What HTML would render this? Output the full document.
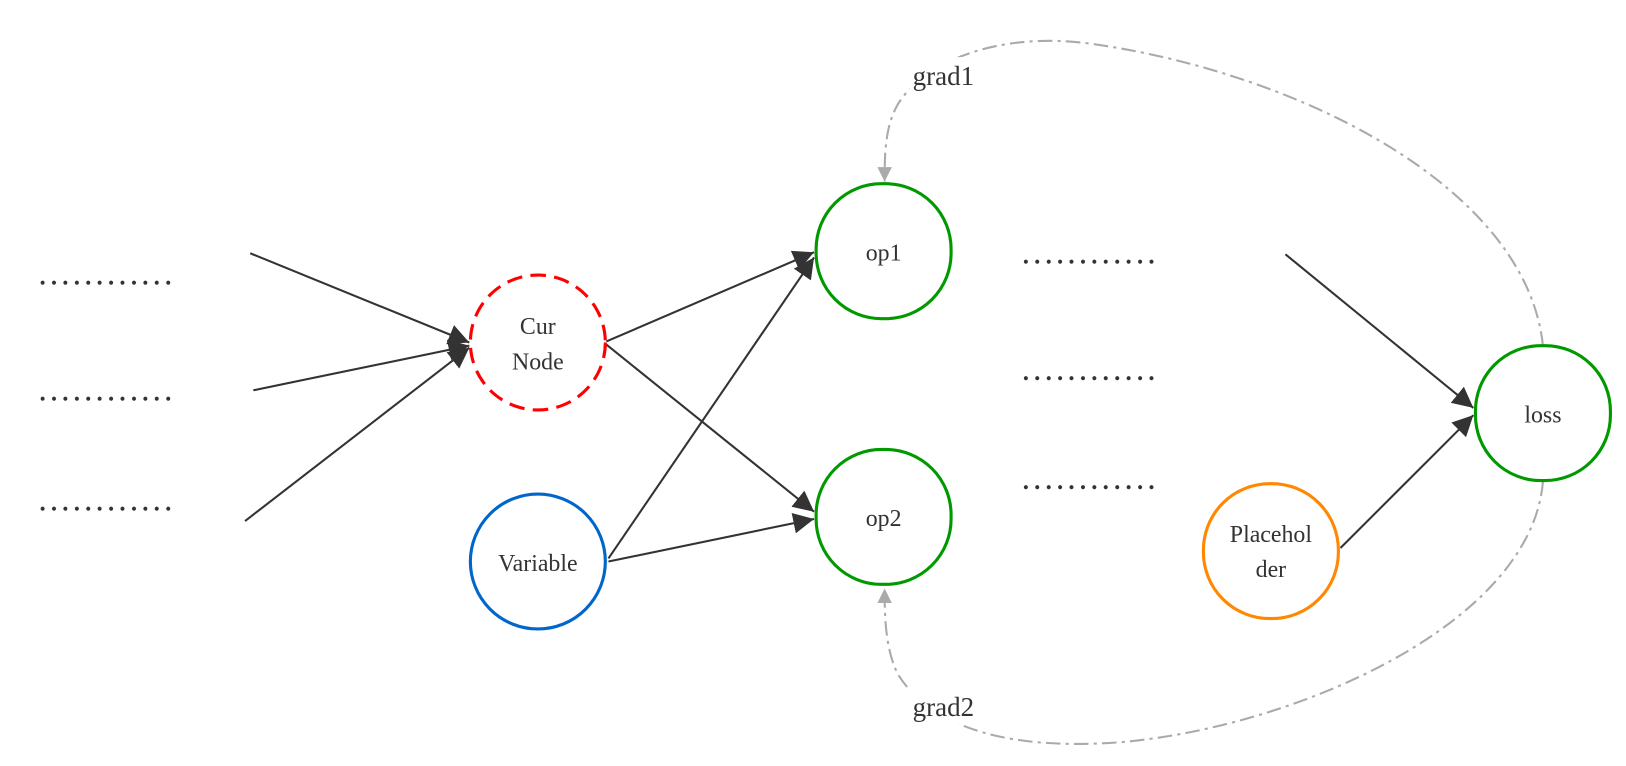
<!DOCTYPE html>
<html><head><meta charset="utf-8"><style>html,body{margin:0;padding:0;background:#fff;}svg{display:block}</style></head>
<body>
<svg width="1626" height="766" viewBox="0 0 1566 738" preserveAspectRatio="none" xmlns="http://www.w3.org/2000/svg" font-family="Liberation Serif, serif">
<defs>
<marker id="ab" viewBox="0 0 10 10" refX="10" refY="5" markerWidth="20" markerHeight="20" markerUnits="userSpaceOnUse" orient="auto"><path d="M0,0L10,5L0,10z" fill="#333"/></marker>
<marker id="g" viewBox="0 0 10 10" refX="10" refY="5" markerWidth="14" markerHeight="14" markerUnits="userSpaceOnUse" orient="auto"><path d="M0,0L10,5L0,10z" fill="#aaa"/></marker>
</defs>
<g fill="#333" font-size="24" font-weight="bold">
<text x="38" y="274" textLength="127">............</text>
<text x="38" y="386" textLength="127">............</text>
<text x="38" y="492" textLength="127">............</text>
<text x="985" y="254" textLength="127">............</text>
<text x="985" y="366" textLength="127">............</text>
<text x="985" y="471" textLength="127">............</text>
</g>
<g stroke="#333" stroke-width="2" fill="none">
<line x1="241" y1="244" x2="452" y2="330" marker-end="url(#ab)"/>
<line x1="244" y1="376" x2="452" y2="333" marker-end="url(#ab)"/>
<line x1="236" y1="502" x2="452" y2="335" marker-end="url(#ab)"/>
<line x1="584" y1="329" x2="784" y2="243" marker-end="url(#ab)"/>
<line x1="584" y1="332" x2="784" y2="493" marker-end="url(#ab)"/>
<line x1="586" y1="538" x2="784" y2="248" marker-end="url(#ab)"/>
<line x1="586" y1="541" x2="784" y2="500" marker-end="url(#ab)"/>
<line x1="1238" y1="245" x2="1419" y2="393" marker-end="url(#ab)"/>
<line x1="1291" y1="528" x2="1419" y2="400" marker-end="url(#ab)"/>
</g>
<g stroke="#aaa" stroke-width="2" fill="none" stroke-dasharray="14,5,3,5">
<path d="M1486,333 C1470,180 1250,70 1050,42 C960,30 890,60 865,100 C852,122 852,150 852,175" marker-end="url(#g)"/>
<path d="M1486,464 C1475,600 1250,700 1080,715 C950,725 890,690 865,650 C852,625 852,590 852,567" marker-end="url(#g)"/>
</g>
<rect x="876" y="55" width="80" height="36" fill="#fff"/>
<rect x="876" y="662" width="80" height="36" fill="#fff"/>
<g fill="#333" font-size="26"><text x="879" y="82">grad1</text><text x="879" y="690">grad2</text></g>
<circle cx="518" cy="330" r="65" fill="#fff" stroke="#f00" stroke-width="3" stroke-dasharray="15,8"/>
<circle cx="518" cy="541" r="65" fill="#fff" stroke="#0066cc" stroke-width="3"/>
<rect x="786" y="177" width="130" height="130" rx="63" fill="#fff" stroke="#090" stroke-width="3"/>
<rect x="786" y="433" width="130" height="130" rx="63" fill="#fff" stroke="#090" stroke-width="3"/>
<rect x="1421" y="333" width="130" height="130" rx="63" fill="#fff" stroke="#090" stroke-width="3"/>
<rect x="1159" y="466" width="130" height="130" rx="64" fill="#fff" stroke="#f80" stroke-width="3"/>
<g fill="#333" font-size="23" text-anchor="middle">
<text x="518" y="322">Cur</text><text x="518" y="356">Node</text>
<text x="518" y="550">Variable</text>
<text x="851" y="251">op1</text>
<text x="851" y="507">op2</text>
<text x="1486" y="407">loss</text>
<text x="1224" y="522">Placehol</text><text x="1224" y="556">der</text>
</g>
</svg>
</body></html>
